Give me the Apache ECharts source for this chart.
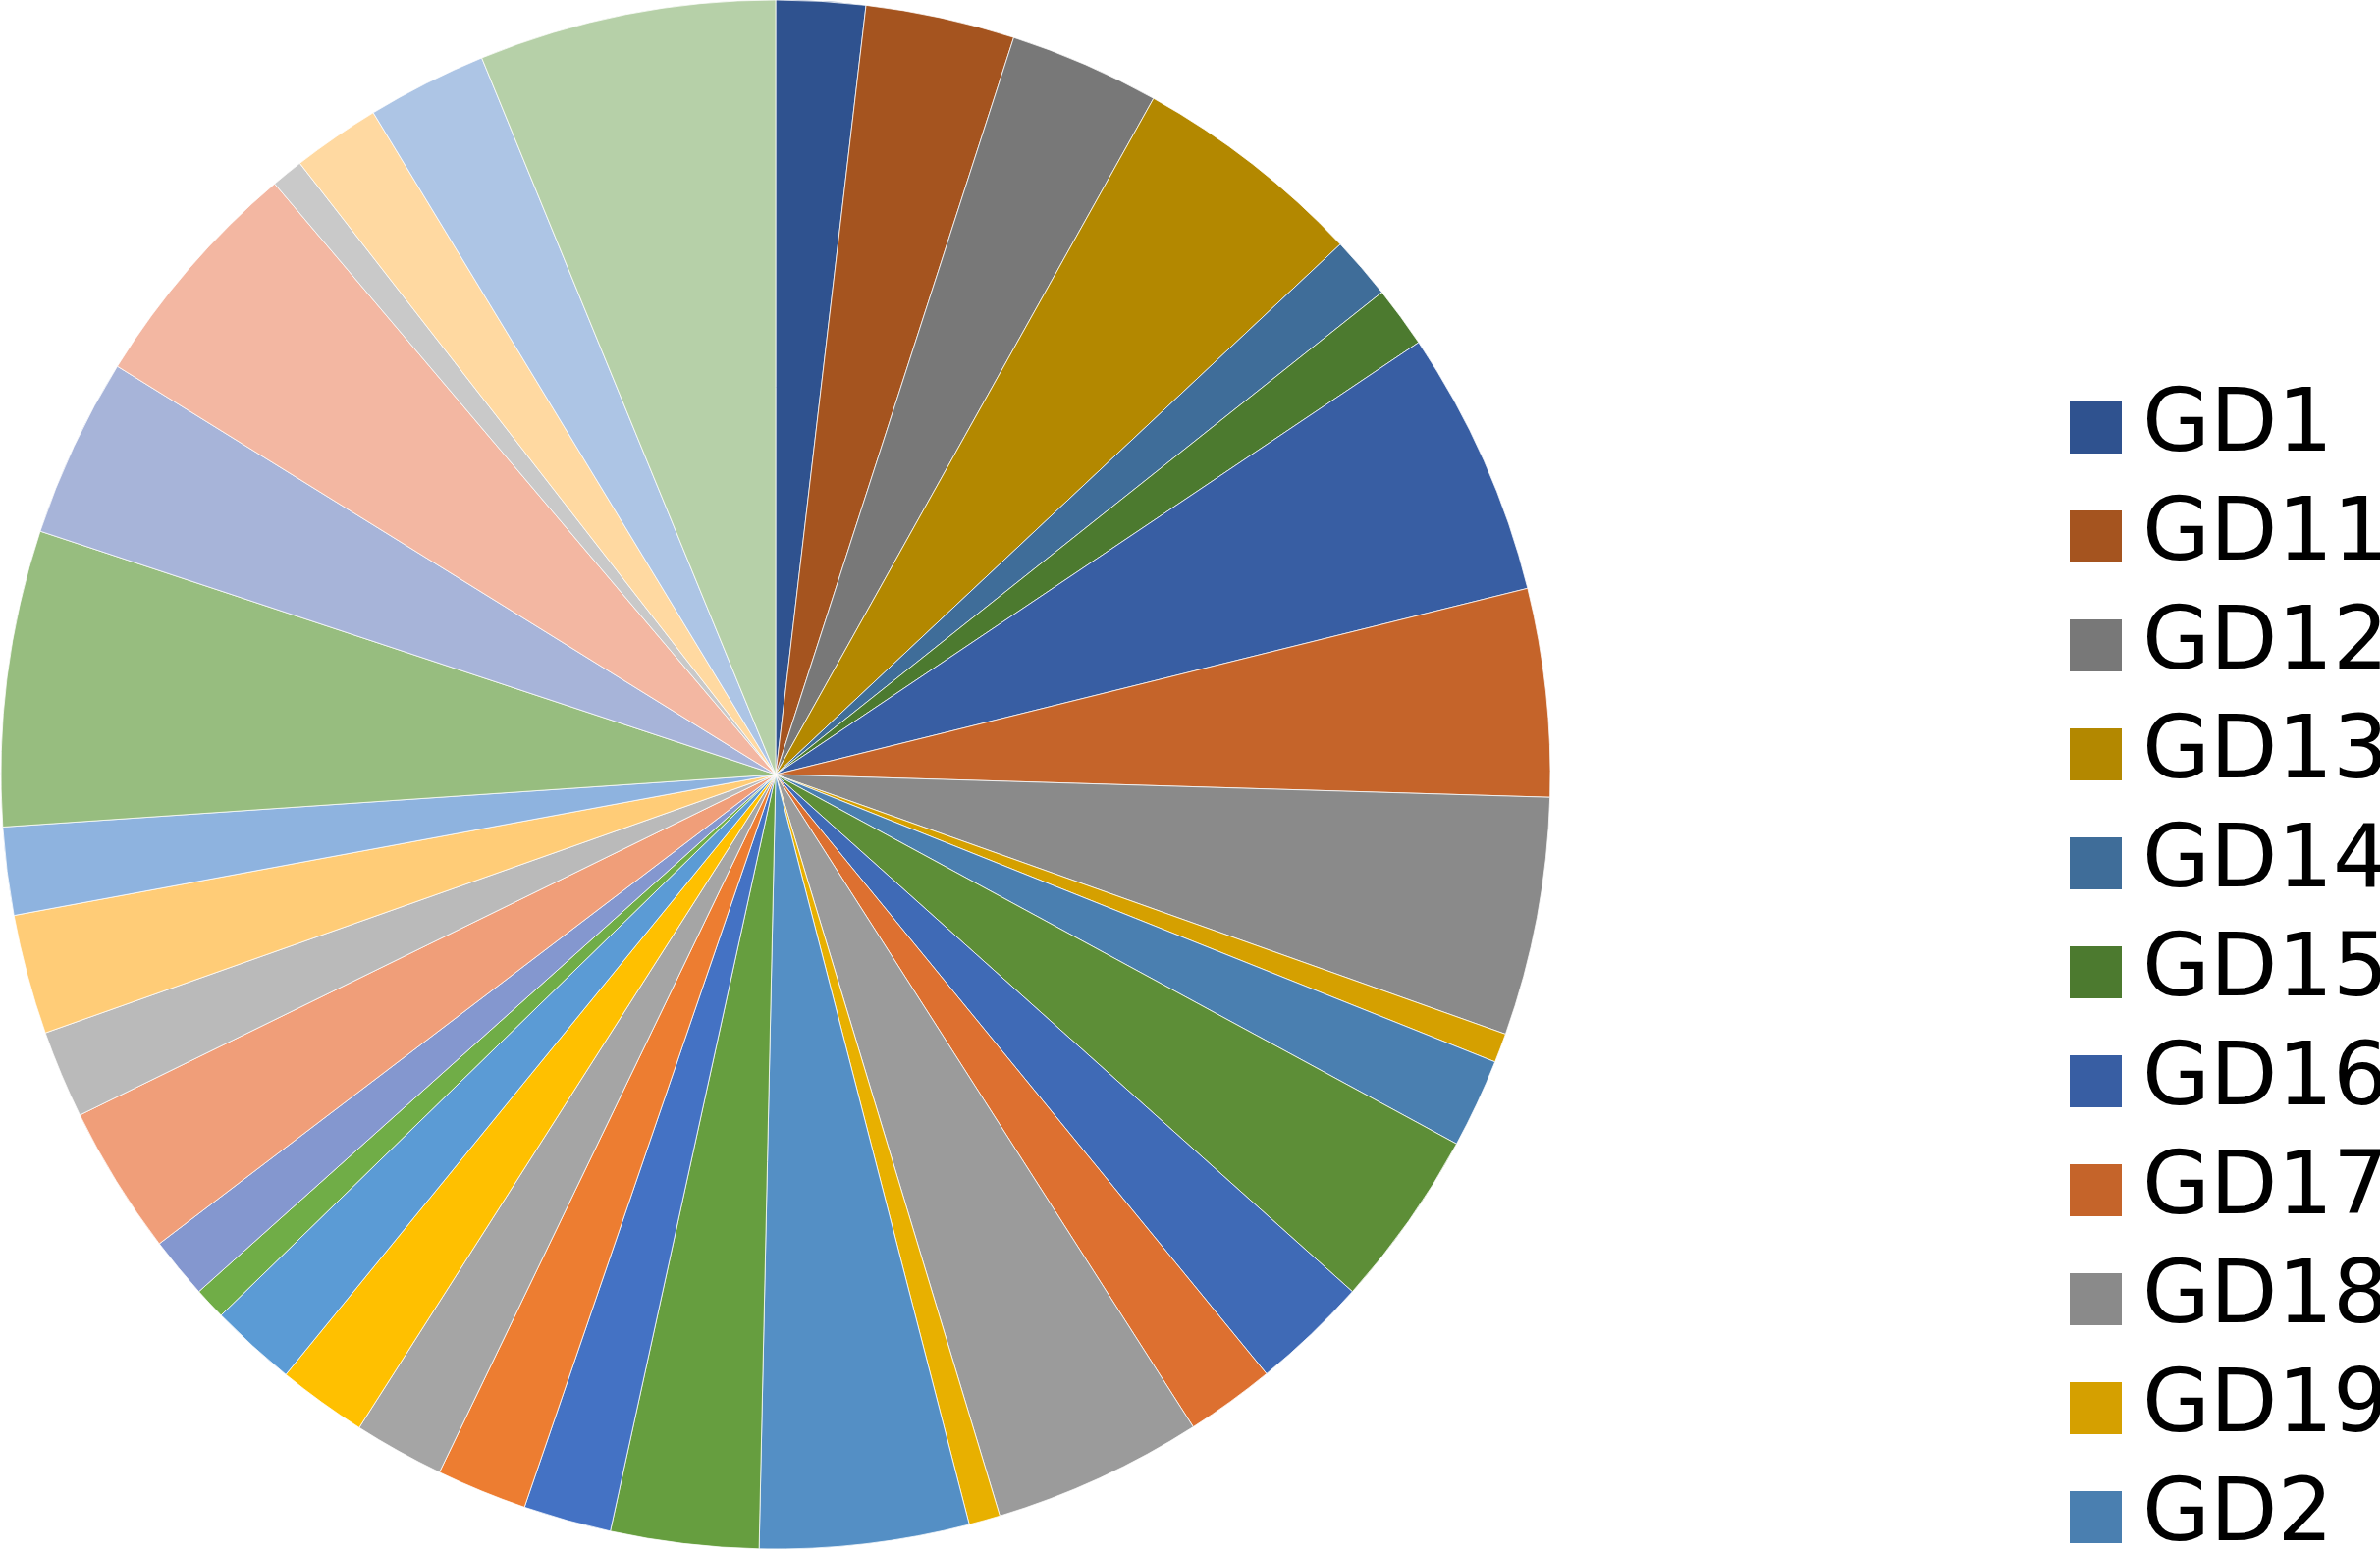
<!DOCTYPE html>
<html>
<head>
<meta charset="utf-8">
<script src="https://cdn.jsdelivr.net/npm/echarts@6/dist/echarts.min.js"></script>
<style>
  html, body { margin: 0; padding: 0; background: #fff; }
  #chart { width: 2424px; height: 1580px; }
</style>
</head>
<body>
<div id="chart"></div>
<script>
// slice names in the order they are drawn (clockwise from 12 o'clock)
var names = ['GD1', 'GD11', 'GD12', 'GD13', 'GD14', 'GD15', 'GD16', 'GD17', 'GD18', 'GD19',
  'GD2', 'GD20', 'GD21', 'GD22', 'GD23', 'GD24', 'GD25', 'GD26', 'GD27', 'GD28', 'GD29',
  'GD3', 'GD30', 'GD31', 'GD32', 'GD33', 'GD34', 'GD35', 'GD36', 'GD37',
  'GD4', 'GD5', 'GD6', 'GD7', 'GD8', 'GD9'];

// values
var values = [6.7, 11.2, 11.3, 17.6, 4.7, 4.6, 20.0, 15.6, 17.9, 2.2,
  6.7, 13.4, 8.8, 6.7, 15.8, 2.35, 15.7, 11.1, 6.6, 6.8, 6.8,
  6.7, 6.5, 2.4, 4.6, 11.2, 6.6, 9.0, 6.6, 22.2,
  13.5, 17.9, 2.4, 6.6, 9.0, 22.3];

var colors = ['#2f528f', '#a5541f', '#787878', '#b38800', '#3f6d99', '#4c7a2f',
  '#385ea3', '#c5642a', '#8a8a8a', '#d5a000', '#4a7fb0', '#5d8e37',
  '#3f6ab6', '#dd7030', '#9b9b9b', '#e8b000', '#548fc5', '#669e3f',
  '#4472c4', '#ed7d31', '#a5a5a5', '#ffc000', '#5b9bd5', '#70ad47',
  '#8497cf', '#f09e79', '#bababa', '#ffcc77', '#8eb3df', '#97bd7f',
  '#a7b4d9', '#f3b7a2', '#c9c9c9', '#ffd9a1', '#adc5e5', '#b6d0a8'];

// only the first entries fit in the legend
var legendNames = names.slice(0, 11);

var data = names.map(function (n, i) {
  return { name: n, value: values[i], itemStyle: { color: colors[i] } };
});

var chart = echarts.init(document.getElementById('chart'), null, { renderer: 'canvas' });
chart.setOption({
  animation: false,
  legend: {
    data: legendNames,
    orient: 'vertical',
    left: 2106,
    top: 391,
    height: 1300,
    padding: 0,
    icon: 'rect',
    itemWidth: 55,
    itemHeight: 55,
    itemGap: 22,
    selectedMode: false,
    textStyle: {
      fontFamily: 'DejaVu Sans', fontSize: 89, lineHeight: 89, color: '#000',
      padding: [0, 0, 0, 15]
    }
  },
  series: [{
    type: 'pie',
    center: [790, 789],
    radius: [0, 789],
    startAngle: 90,
    clockwise: true,
    avoidLabelOverlap: false,
    label: { show: false },
    labelLine: { show: false },
    emphasis: { disabled: true },
    itemStyle: { borderColor: '#ffffff', borderWidth: 0.75 },
    data: data
  }]
});
</script>
</body>
</html>
